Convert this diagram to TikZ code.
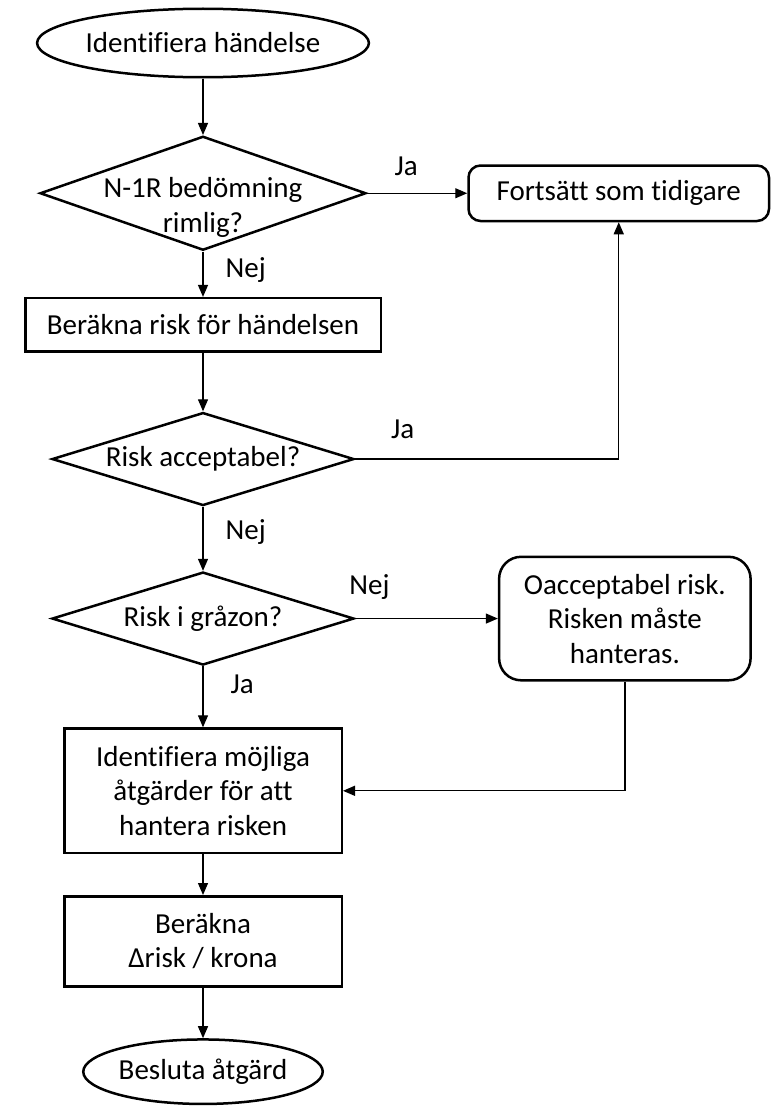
\documentclass[tikz,border=0pt]{standalone}
\usepackage{fontspec}
\setmainfont{Carlito}[Ligatures=CommonOff]
\usetikzlibrary{shapes,arrows.meta,positioning}

\begin{document}
\begin{tikzpicture}[
    font=\fontsize{29}{34.5}\selectfont,
    node distance=50pt and 100pt,
    term/.style={ellipse, draw, line width=2.5pt, inner sep=0pt},
    block/.style={rectangle, draw, line width=2.5pt, align=center, inner sep=0pt},
    soft/.style={block, rounded corners=12pt},
    decision/.style={diamond, draw, line width=2.5pt, inner sep=0pt, minimum width=302pt, minimum height=93pt},
    arrow/.style={-{Triangle[length=12pt, width=10pt]}, line width=1.3pt},
    answer/.style={inner sep=2pt}
]

\useasboundingbox (0,0) rectangle (774pt,-1108pt);

% Start
\node[term, minimum width=271.5pt, minimum height=68.5pt] (start) at (203pt,-43pt) {Identifiera händelse};

% N-1R check and its yes branch
\node[decision, below=56.5pt of start, minimum width=326pt, minimum height=114pt,
      label={[align=center, yshift=-14pt]center:N-1R bedömning\\rimlig?}] (assess) {};
\node[soft, right=100pt of assess, minimum width=300.5pt, minimum height=55.5pt] (proceed) {Fortsätt som tidigare};

% Risk calculation
\node[block, below=45.4pt of assess, minimum width=355.5pt, minimum height=53.5pt] (calcrisk) {Beräkna risk för händelsen};
\node[decision, below=58.4pt of calcrisk, label={center:Risk acceptabel?}] (acceptable) {};
\node[decision, below=64pt of acceptable, label={center:Risk i gråzon?}] (greyzone) {};
\node[soft, right=142.6pt of greyzone, rounded corners=22pt, minimum width=251.5pt, minimum height=123.5pt] (unacceptable) {Oacceptabel risk.\\Risken måste\\hanteras.};

% Measures
\node[block, below=61pt of greyzone, minimum width=277.5pt, minimum height=124.5pt] (measures) {Identifiera möjliga\\åtgärder för att\\hantera risken};
\node[block, below=40.7pt of measures, minimum width=277.5pt, minimum height=90pt] (costrisk) {Beräkna\\Δrisk / krona};
\node[term, below=50.7pt of costrisk, minimum width=239.5pt, minimum height=64.5pt] (decide) {Besluta åtgärd};

% Connectors
\draw[arrow] (start) -- (assess);
\draw[arrow] (assess) -- node[answer, pos=0.39, above=15pt] {Ja} (proceed);
\draw[arrow] (assess) -- node[answer, pos=0.4, right=20pt] {Nej} (calcrisk);
\draw[arrow] (calcrisk) -- (acceptable);
\draw[arrow] (acceptable) -| node[answer, pos=0.09, above=18pt] {Ja} (proceed);
\draw[arrow] (acceptable) -- node[answer, pos=0.4, right=20pt] {Nej} (greyzone);
\draw[arrow] (greyzone) -- node[answer, pos=0.1, above=16pt] {Nej} (unacceptable);
\draw[arrow] (greyzone) -- node[answer, pos=0.3, right=25pt] {Ja} (measures);
\draw[arrow] (unacceptable) |- (measures);
\draw[arrow] (measures) -- (costrisk);
\draw[arrow] (costrisk) -- (decide);

\end{tikzpicture}
\end{document}
